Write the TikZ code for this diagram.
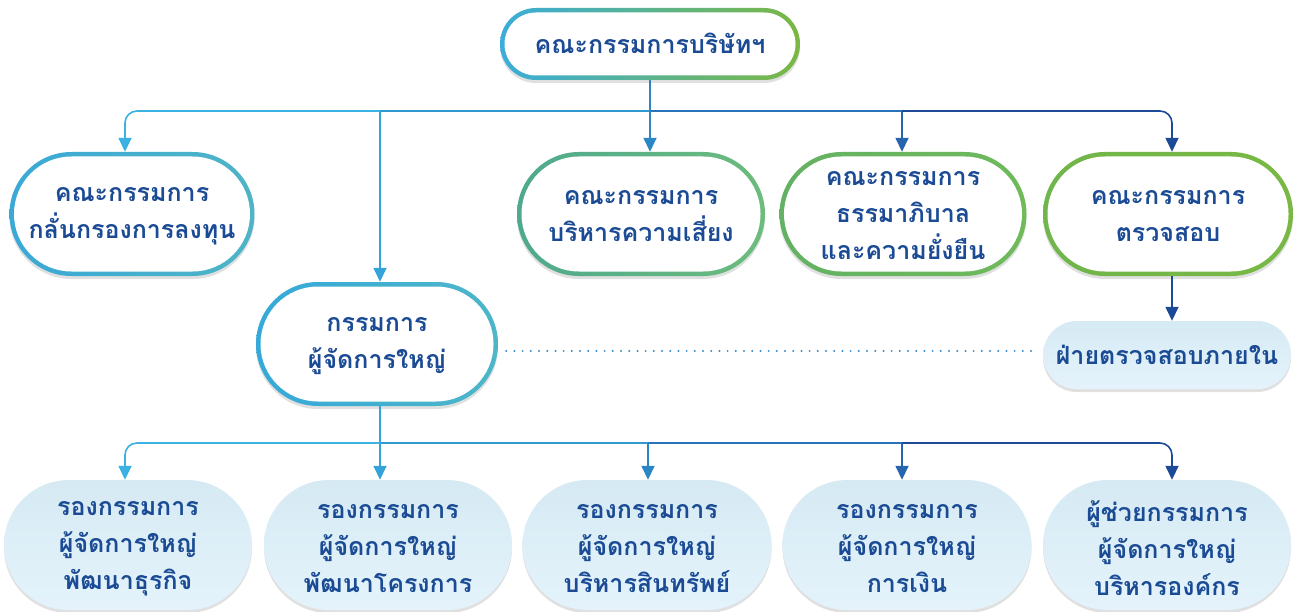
\documentclass[tikz,border=0pt]{standalone}
\usepackage{fontspec}
\newfontfamily\thaifont[Script=Thai]{Loma}
\usetikzlibrary{arrows.meta,shadows}
\definecolor{txt}{HTML}{1B4B94}
\definecolor{gTopL}{HTML}{3AADDA}\definecolor{gTopR}{HTML}{7BB843}
\definecolor{gOneL}{HTML}{3AA9D6}\definecolor{gOneR}{HTML}{4EB4C6}
\definecolor{gRiskL}{HTML}{4FA98E}\definecolor{gRiskR}{HTML}{6CBC7C}
\definecolor{gGovL}{HTML}{63B163}\definecolor{gGovR}{HTML}{6FBA5B}
\definecolor{gAudL}{HTML}{70B64C}\definecolor{gAudR}{HTML}{79B844}
\definecolor{gGmL}{HTML}{36A9D8}\definecolor{gGmR}{HTML}{4DB6C8}
\definecolor{aOne}{HTML}{3BB7E8}\definecolor{aTwo}{HTML}{34A3D9}
\definecolor{aThree}{HTML}{2B86C6}\definecolor{aFour}{HTML}{2465AE}
\definecolor{aFive}{HTML}{1C4A97}
\definecolor{sOne}{HTML}{3AB2E2}\definecolor{sTwo}{HTML}{3198D0}
\definecolor{sThree}{HTML}{2873BA}\definecolor{sFour}{HTML}{1F56A0}
\definecolor{softTop}{HTML}{D6EAF3}\definecolor{softBot}{HTML}{E4F3FB}
\definecolor{dotcol}{HTML}{3A8CCB}
\newcommand{\ringnode}[8]{%
  \pgfmathsetmacro{\rOut}{#4/2-0.01}%
  \pgfmathsetmacro{\wIn}{#3-9}%
  \pgfmathsetmacro{\hIn}{#4-9}%
  \pgfmathsetmacro{\rIn}{(#4-9)/2-0.01}%
  \node[shad, inner sep=0pt, minimum width=#3pt, minimum height=#4pt, rounded corners=\rOut pt, left color=#5, right color=#6] (#1) at #2 {};
  \node[inner sep=0pt, fill=white, minimum width=\wIn pt, minimum height=\hIn pt, rounded corners=\rIn pt] (#1-in) at (#1.center) {};
  \node[lbl, yshift=#8pt] (#1-t) at (#1.center) {#7};
}
\newcommand{\softnode}[6]{%
  \pgfmathsetmacro{\rOut}{#4/2-0.01}%
  \node[shad, inner sep=0pt, minimum width=#3pt, minimum height=#4pt, rounded corners=\rOut pt, top color=softTop, bottom color=softBot] (#1) at #2 {};
  \node[lbl, yshift=#6pt] (#1-t) at (#1.center) {#5};
}
\begin{document}
\begin{tikzpicture}[x=1pt,y=-1pt,
  lbl/.style={inner sep=0pt, align=center, text=txt, font=\thaifont\bfseries\fontsize{25}{37}\selectfont},
  shad/.style={drop shadow={shadow xshift=0pt, shadow yshift=-3pt, opacity=0.12, fill=black}},
  conn/.style={line width=1.6pt},
  arr/.style={-{Triangle[width=13pt,length=14pt]}},
  dotline/.style={line width=2.2pt, dotcol, dash pattern=on 0pt off 8.2pt, line cap=round}]
\useasboundingbox (0,0) rectangle (1297,612);
\fill[white] (0,0) rectangle (1297,612);

% nodes
\ringnode{top}{(650,44)}{300}{72}{gTopL}{gTopR}{คณะกรรมการบริษัทฯ}{1}
\ringnode{cOne}{(132,214)}{245}{124}{gOneL}{gOneR}{คณะกรรมการ\\กลั่นกรองการลงทุน}{-2.5}
\ringnode{cRisk}{(641,214)}{248}{124}{gRiskL}{gRiskR}{คณะกรรมการ\\บริหารความเสี่ยง}{-2.5}
\ringnode{cGov}{(903,214)}{247}{124}{gGovL}{gGovR}{คณะกรรมการ\\ธรรมาภิบาล\\และความยั่งยืน}{-2}
\ringnode{cAud}{(1168,214)}{250}{124}{gAudL}{gAudR}{คณะกรรมการ\\ตรวจสอบ}{-2.5}
\ringnode{gm}{(377,344)}{242}{124}{gGmL}{gGmR}{กรรมการ\\ผู้จัดการใหญ่}{-2.5}
\softnode{ia}{(1167,355)}{248}{68}{ฝ่ายตรวจสอบภายใน}{0}
\softnode{bOne}{(128,545)}{248}{130}{รองกรรมการ\\ผู้จัดการใหญ่\\พัฒนาธุรกิจ}{-3.5}
\softnode{bTwo}{(388,545)}{248}{130}{รองกรรมการ\\ผู้จัดการใหญ่\\พัฒนาโครงการ}{-3.5}
\softnode{bThree}{(647,545)}{249}{130}{รองกรรมการ\\ผู้จัดการใหญ่\\บริหารสินทรัพย์}{-3.5}
\softnode{bFour}{(907,545)}{249}{130}{รองกรรมการ\\ผู้จัดการใหญ่\\การเงิน}{-3.5}
\softnode{bFive}{(1167,545)}{248}{130}{ผู้ช่วยกรรมการ\\ผู้จัดการใหญ่\\บริหารองค์กร}{-3.5}

% bus coordinates
\coordinate (busA) at (125,111);
\coordinate (busB) at (380,111);
\coordinate (busC) at (650,111);
\coordinate (busD) at (902,111);
\coordinate (busE) at (1172,111);
\coordinate (lowA) at (125,443);
\coordinate (lowB) at (380,443);
\coordinate (lowC) at (648,443);
\coordinate (lowD) at (902,443);
\coordinate (lowE) at (1172,443);
\coordinate (dotR) at (1043,351);

% upper connectors
\draw[conn, aThree] (top.south) -- (busC);
\draw[conn, sTwo] (busC) -- (busB);
\draw[conn, sThree] (busC) -- (busD);
\draw[conn, aThree, arr] (busC) -- (busC |- cRisk.north);
\draw[conn, aTwo, arr] (busB) -- (busB |- gm.north);
\draw[conn, sOne, arr, rounded corners=12pt] (busB) -- (busA) -- (busA |- cOne.north);
\draw[conn, aFour, arr] (busD) -- (busD |- cGov.north);
\draw[conn, aFive, arr, rounded corners=12pt] (busD) -- (busE) -- (busE |- cAud.north);
\draw[conn, aFive, arr] (busE |- cAud.south) -- (busE |- ia.north);

% dotted link
\draw[dotline, shorten <=8pt, shorten >=4pt] (gm.east |- dotR) -- (dotR);

% lower connectors
\draw[conn, aTwo] (lowB |- gm.south) -- (lowB);
\draw[conn, sTwo] (lowB) -- (lowC);
\draw[conn, sThree] (lowC) -- (lowD);
\draw[conn, aTwo, arr] (lowB) -- (lowB |- bTwo.north);
\draw[conn, sOne, arr, rounded corners=12pt] (lowB) -- (lowA) -- (lowA |- bOne.north);
\draw[conn, aThree, arr] (lowC) -- (lowC |- bThree.north);
\draw[conn, aFour, arr] (lowD) -- (lowD |- bFour.north);
\draw[conn, aFive, arr, rounded corners=12pt] (lowD) -- (lowE) -- (lowE |- bFive.north);
\end{tikzpicture}
\end{document}
